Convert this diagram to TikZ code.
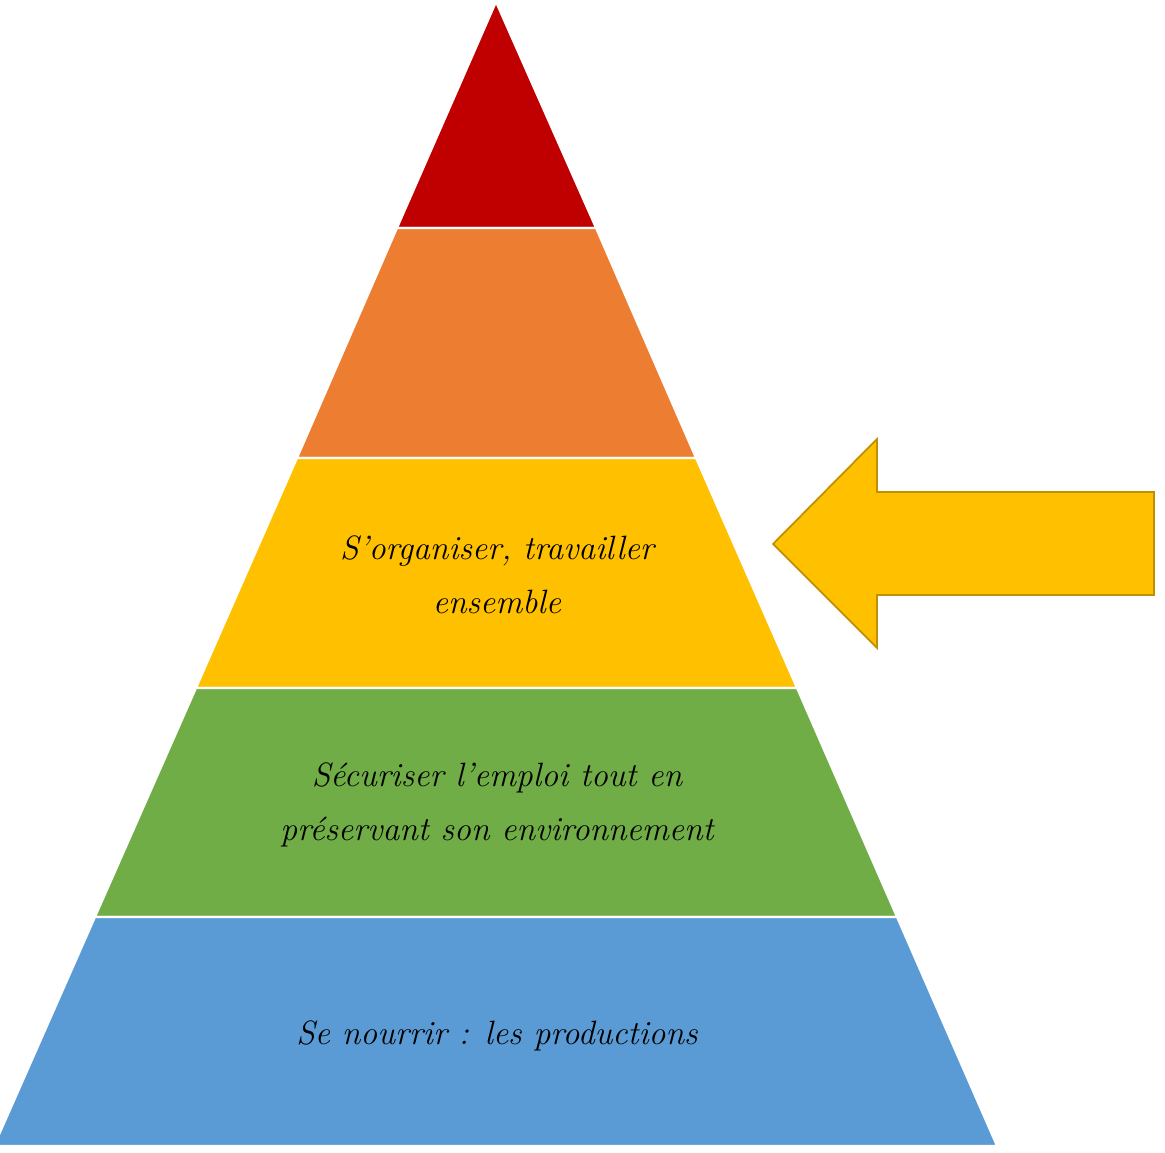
\documentclass[tikz,border=0pt]{standalone}
\definecolor{topred}{RGB}{192,0,0}
\definecolor{layerorange}{RGB}{237,125,49}
\definecolor{layergold}{RGB}{255,192,0}
\definecolor{layergreen}{RGB}{112,173,71}
\definecolor{layerblue}{RGB}{91,155,213}
\definecolor{arrowedge}{RGB}{191,144,0}
\usepackage{tikz}
\usetikzlibrary{positioning,calc}

\begin{document}
\begin{tikzpicture}[
            x=0.02cm, y=-0.02cm,
            layer/.style={draw=white, line width=1.2pt},
            label/.style={align=center, text=black, font=\fontsize{19.2}{31}\selectfont\itshape},
            bigarrow/.style={fill=layergold, draw=arrowedge, line width=1pt}
        ]
            \useasboundingbox (0,0) rectangle (1165,1152);
            
            % Pyramid layers
            \filldraw[layer, fill=topred] (496,2) -- (596,228) -- (397,228) -- cycle;
            \filldraw[layer, fill=layerorange] (397,228) -- (596,228) -- (696,458) -- (297,458) -- cycle;
            \filldraw[layer, fill=layergold] (297,458) -- (696,458) -- (797,688) -- (196,688) -- cycle;
            \filldraw[layer, fill=layergreen] (196,688) -- (797,688) -- (897,917) -- (95,917) -- cycle;
            \filldraw[layer, fill=layerblue] (95,917) -- (897,917) -- (997,1146) -- (-6,1146) -- cycle;
            
            % Labels
            \node[label] (work) at (497,575) {S'organiser, travailler\\ensemble};
            \node[label] (job) at (497,805) {Sécuriser l'emploi tout en\\préservant son environnement};
            \node[label] (food) at (497,1036) {Se nourrir : les productions};
            
            % Pointer
            \filldraw[bigarrow] (773,544) -- (877,439) -- (877,492) -- (1154,492)
                -- (1154,595) -- (877,595) -- (877,648) -- cycle;
        \end{tikzpicture}
\end{document}
